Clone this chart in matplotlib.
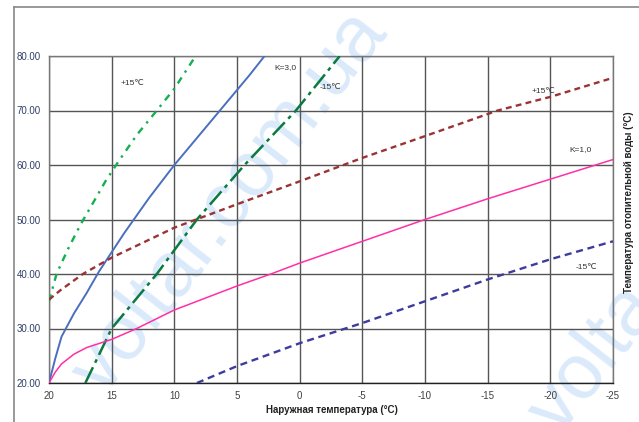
import numpy as np
import matplotlib
matplotlib.use("Agg")
import matplotlib.pyplot as plt
from matplotlib.lines import Line2D

plt.rcParams['font.family'] = ['Liberation Sans', 'DejaVu Sans']

# K=3.0, +20 room (solid blue)
k3_t = [20, 19.5, 19, 18, 17, 16, 15, 14, 12, 10, 8, 6, 4, 2.8]
k3_v = [20, 24.5, 28.5, 32.8, 36.5, 40.5, 44, 47.5, 54, 60, 65.5, 71, 76.5, 80]
# K=3.0, +15 (green dash-dot)
g15_t = [20, 19.4, 18.5, 17.5, 16.5, 15.5, 14.5, 13, 11.4, 10, 8.3]
g15_v = [35, 40, 44.5, 49, 53, 57, 60.5, 65.5, 70, 74, 80]
# K=3.0, -15 (dark green dashed)
gm15_t = [17.1, 15, 11.4, 8.2, 4.4, 0.3, -3.2]
gm15_v = [20, 30, 40, 50, 60, 70, 80]
# K=1.0, +15 (brown dotted)
b15_t = [20, 19.1, 17.3, 15, 10, 5, 0, -5, -10, -15.8, -20, -25]
b15_v = [35.3, 37, 40, 43, 48.5, 52.8, 57, 61.3, 65.3, 70, 72.5, 76]
# K=1.0, +20 room (pink solid)
k1_t = [20, 19.5, 19, 18, 17, 15, 13, 10, 5, 2.3, 0, -5, -10, -15, -20, -25]
k1_v = [20, 22, 23.5, 25.3, 26.5, 28, 30, 33.4, 37.8, 40, 42, 46, 50, 53.8, 57.4, 61]
# K=1.0, -15 (navy dashed)
nm15_t = [8.2, 5, 0, -5, -10, -15, -20, -25]
nm15_v = [20, 23.1, 27.3, 31, 35, 39, 42.7, 46]

x_ticks = [20, 15, 10, 5, 0, -5, -10, -15, -20, -25]
y_ticks = [20, 30, 40, 50, 60, 70, 80]

fig = plt.figure(figsize=(6.39, 4.22), dpi=100)
ax = fig.add_axes([49/639, 39/422, 564/639, 327/422])

# watermark (behind the curves)
wm = dict(fontsize=56, color="#dbeafb", rotation=52, ha="center", va="center",
          zorder=0.5, clip_on=False, transform=fig.transFigure)
ax.text(0.36, 0.52, "voltar.com.ua", **wm)
ax.text(0.93, 0.15, "volta", **wm)

ax.plot(k3_t, k3_v, color="#4a6fbd", lw=1.4, zorder=3)
ax.plot(g15_t, g15_v, color="#13b050", lw=1.7, linestyle=(0, (3, 2.5, 1, 2.5)), zorder=3)
ax.plot(gm15_t, gm15_v, color="#0a7a40", lw=1.8, linestyle=(0, (7, 2, 1.5, 2)), zorder=3)
ax.plot(b15_t, b15_v, color="#9a3434", lw=1.7, linestyle=(0, (2.5, 1.8)), zorder=3)
ax.plot(k1_t, k1_v, color="#ff2fa8", lw=1.1, zorder=3)
ax.plot(nm15_t, nm15_v, color="#3c3c9e", lw=1.7, linestyle=(0, (3, 2)), zorder=3)

ax.set_xlim(20, -25)
ax.set_ylim(20, 80)
ax.set_xticks(x_ticks)
ax.set_xticklabels([str(t) for t in x_ticks])
ax.set_yticks(y_ticks)
ax.set_yticklabels([f"{v:.2f}" for v in y_ticks])
ax.grid(True, color="#555555", lw=1.0, zorder=1)
ax.set_axisbelow(True)
ax.tick_params(length=0, labelsize=7, colors="#404040", pad=6)
for lab in ax.get_yticklabels():
    lab.set_color("#2f3f66")
for s in ["top", "right", "left"]:
    ax.spines[s].set_color("#777777")
    ax.spines[s].set_linewidth(1.0)
ax.spines["bottom"].set_color("#222222")
ax.spines["bottom"].set_linewidth(1.0)

ax.text(0.385, -0.083, "Наружная температура (°C)", transform=ax.transAxes,
        fontsize=7, fontweight="bold", color="#222222", ha="left", va="center")
fig.text(0.985, 0.52, "Температура отопительной воды (°C)", rotation=90,
         fontsize=7, fontweight="bold", color="#222222", ha="center", va="center")

ann = dict(fontsize=6, color="#333333", ha="left", va="center", zorder=4)
ax.text(14.3, 75, "+15℃", **ann)
ax.text(2.0, 77.8, "K=3,0", **ann)
ax.text(-1.6, 74.2, "-15℃", **ann)
ax.text(-18.5, 73.4, "+15℃", **ann)
ax.text(-21.5, 62.9, "K=1,0", **ann)
ax.text(-22.0, 41.2, "-15℃", **ann)

# outer frame
fig.add_artist(Line2D([14/639, 14/639], [0, 1 - 7/422], color="#888888", lw=1.2,
                      transform=fig.transFigure))
fig.add_artist(Line2D([14/639, 1], [1 - 7/422, 1 - 7/422], color="#888888", lw=1.2,
                      transform=fig.transFigure))

fig.savefig("out.png", dpi=100)
